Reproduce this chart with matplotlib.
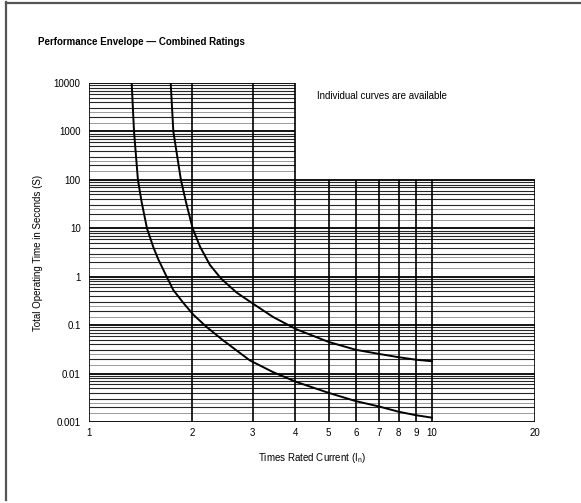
import matplotlib
matplotlib.use("Agg")
import matplotlib.pyplot as plt
from matplotlib.lines import Line2D
from matplotlib.ticker import NullLocator

plt.rcParams['font.family'] = ['Liberation Sans', 'DejaVu Sans']
plt.rcParams['mathtext.fontset'] = 'custom'
plt.rcParams['mathtext.rm'] = 'Liberation Sans'

# ---- data ----
curve_low_x = [1.332, 1.353, 1.389, 1.424, 1.476, 1.54, 1.592, 1.685, 1.762, 1.883, 2.014,
               2.204, 2.464, 2.946, 3.445, 4.03, 5, 6, 7, 8, 9, 10]
curve_low_y = [10000, 1000, 100, 34.9, 10, 4.1, 2.3, 1.0, 0.53, 0.29, 0.165,
               0.0914, 0.0483, 0.0187, 0.0107, 0.0067, 0.0040, 0.0027, 0.0021, 0.00163, 0.00138, 0.00123]

curve_high_x = [1.731, 1.762, 1.854, 1.918, 2.006, 2.107, 2.253, 2.43, 2.696, 3.01,
                3.445, 4.03, 5, 6, 7, 8, 9, 10]
curve_high_y = [10000, 1000, 100, 34.9, 10, 4.2, 1.75, 0.91, 0.47, 0.277,
                0.147, 0.082, 0.045, 0.031, 0.0255, 0.0218, 0.0193, 0.018]

x_ticks = [1, 2, 3, 4, 5, 6, 7, 8, 9, 10, 20]
x_tick_labels = ['1', '2', '3', '4', '5', '6', '7', '8', '9', '10', '20']
y_ticks = [0.001, 0.01, 0.1, 1, 10, 100, 1000, 10000]
y_tick_labels = ['0.001', '0.01', '0.1', '1', '10', '100', '1000', '10000']

title = 'Performance Envelope \u2014 Combined Ratings'
note = 'Individual curves are available'
x_label = r'Times Rated Current (I$_{\mathregular{n}}$)'
y_label = 'Total Operating Time in Seconds (S)'

# envelope of the printed grid
x_min, x_max, x_step = 1, 20, 4
y_min, y_max, y_step = 0.001, 10000, 100

W, H = 581, 503
fig = plt.figure(figsize=(W / 100, H / 100), dpi=100)
ax = fig.add_axes([89 / W, 1 - 422 / H, (535 - 89) / W, (422 - 83) / H])
ax.set_xscale('log')
ax.set_yscale('log')
ax.set_xlim(x_min, x_max)
ax.set_ylim(y_min, y_max)
for s in ax.spines.values():
    s.set_visible(False)
ax.patch.set_alpha(0)

# horizontal grid lines
minor_mult = [1, 1.5, 2, 2.5, 3, 4, 5, 6, 7, 8, 9]
for d in range(-3, 4):
    for k in minor_mult:
        y = k * 10.0 ** d
        if y > y_max:
            continue
        xr = x_max if y <= y_step else x_step
        if k == 1:
            ax.hlines(y, x_min, xr, color='black', lw=1.3, zorder=1)
        elif k in (1.5, 2.5):
            ax.hlines(y, x_min, xr, color='#8a8a8a', lw=0.6, zorder=1)
        else:
            ax.hlines(y, x_min, xr, color='#262626', lw=0.8, zorder=1)
ax.hlines(y_max, x_min, x_step, color='black', lw=1.3, zorder=1)

# vertical grid lines
for xv in list(range(1, 11)) + [20]:
    top = y_max if xv <= x_step else y_step
    ax.vlines(xv, y_min, top, color='black', lw=1.2, zorder=1)

# curves
ax.plot(curve_low_x, curve_low_y, color='black', lw=1.4, zorder=3, solid_joinstyle='round')
ax.plot(curve_high_x, curve_high_y, color='black', lw=1.4, zorder=3, solid_joinstyle='round')

ax.set_xticks(x_ticks)
ax.set_xticklabels(x_tick_labels)
ax.set_yticks(y_ticks)
ax.set_yticklabels(y_tick_labels)
ax.xaxis.set_minor_locator(NullLocator())
ax.yaxis.set_minor_locator(NullLocator())
ax.tick_params(axis='both', length=0, labelsize=7)
ax.tick_params(axis='x', pad=4)
ax.tick_params(axis='y', pad=6)

ax.set_xlabel(x_label, fontsize=7)
ax.xaxis.set_label_coords(0.5, -(451 - 422) / 339)
ax.set_ylabel(y_label, fontsize=7)
ax.yaxis.set_label_coords((43 - 89) / 446, 0.5)

fig.text(38 / W, 1 - 42 / H, title, fontsize=7, fontweight='bold', ha='left', va='center')
fig.text(317 / W, 1 - 96 / H, note, fontsize=7, ha='left', va='center')

# page border (top and left)
fig.add_artist(Line2D([6 / W, 6 / W], [1 - 500 / H, 1 - 2 / H], transform=fig.transFigure,
                      color='#555555', lw=1.6))
fig.add_artist(Line2D([6 / W, 1.0], [1 - 2.5 / H, 1 - 2.5 / H], transform=fig.transFigure,
                      color='#555555', lw=1.6))

fig.savefig('out.png', dpi=100)
